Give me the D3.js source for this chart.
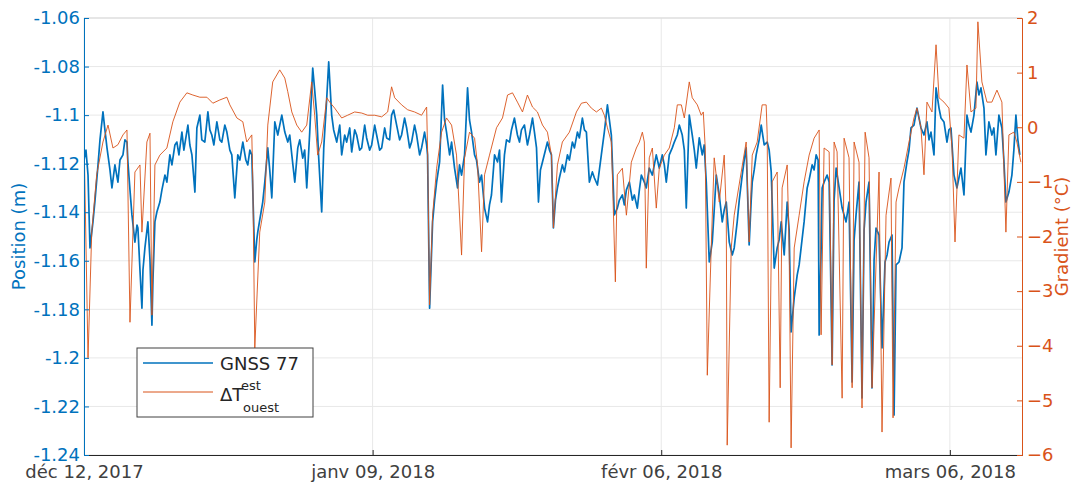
<!DOCTYPE html>
<html><head><meta charset="utf-8">
<script src="https://cdn.jsdelivr.net/npm/d3@7"></script>
<style>body{margin:0;background:#fff}svg{display:block}text{font-family:"DejaVu Sans",sans-serif}</style>
</head><body><svg id="c" width="1072" height="486"></svg>
<script>
const startDay = Date.UTC(2017, 11, 12);
const endDay = Date.UTC(2018, 2, 13);
const xTickDays = [0, 28, 56, 84];
const xTickLabels = ["déc 12, 2017", "janv 09, 2018", "févr 06, 2018", "mars 06, 2018"];
const posTicks = [-1.06, -1.08, -1.1, -1.12, -1.14, -1.16, -1.18, -1.2, -1.22, -1.24];
const posTickLabels = ["-1.06", "-1.08", "-1.1", "-1.12", "-1.14", "-1.16", "-1.18", "-1.2", "-1.22", "-1.24"];
const gradTicks = [2, 1, 0, -1, -2, -3, -4, -5, -6];
const seriesNames = ["GNSS 77", "ΔT"];

// [day offset from déc 12 2017, position (m)]
const gnss = [[0,-1.1185],[0.19,-1.1144],[0.39,-1.1247],[0.58,-1.1547],[0.87,-1.1440],[1.07,-1.1350],[1.36,-1.1205],[1.55,-1.1102],[1.84,-1.0987],[2.03,-1.1061],[2.23,-1.1135],[2.52,-1.1226],[2.71,-1.1300],[3.00,-1.1205],[3.29,-1.1276],[3.49,-1.1185],[3.78,-1.1164],[3.97,-1.1102],[4.17,-1.1111],[4.26,-1.1193],[4.46,-1.1308],[4.65,-1.1411],[4.94,-1.1523],[5.14,-1.1453],[5.23,-1.1465],[5.43,-1.1638],[5.62,-1.1795],[5.72,-1.1638],[5.91,-1.1547],[6.20,-1.1440],[6.40,-1.1597],[6.59,-1.1865],[6.69,-1.1679],[6.88,-1.1440],[7.07,-1.1399],[7.36,-1.1358],[7.56,-1.1308],[7.85,-1.1247],[8.04,-1.1276],[8.33,-1.1164],[8.53,-1.1205],[8.82,-1.1123],[9.01,-1.1111],[9.21,-1.1164],[9.50,-1.1070],[9.69,-1.1144],[10.08,-1.1041],[10.27,-1.1123],[10.47,-1.1164],[10.76,-1.1317],[10.95,-1.1053],[11.24,-1.1000],[11.43,-1.1102],[11.72,-1.1111],[12.02,-1.0987],[12.21,-1.1061],[12.40,-1.1082],[12.60,-1.1123],[12.89,-1.1028],[13.18,-1.1102],[13.37,-1.1111],[13.66,-1.1041],[13.86,-1.1070],[14.15,-1.1144],[14.34,-1.1164],[14.63,-1.1341],[14.92,-1.1164],[15.12,-1.1185],[15.41,-1.1111],[15.70,-1.1185],[15.89,-1.1205],[16.09,-1.1144],[16.28,-1.1164],[16.57,-1.1605],[16.76,-1.1514],[16.86,-1.1481],[17.05,-1.1432],[17.34,-1.1358],[17.54,-1.1276],[17.83,-1.1135],[18.02,-1.1226],[18.22,-1.1341],[18.51,-1.1028],[18.80,-1.1082],[18.99,-1.1041],[19.19,-1.1000],[19.48,-1.1070],[19.77,-1.1111],[19.96,-1.1082],[20.16,-1.1164],[20.45,-1.1276],[20.74,-1.1135],[20.93,-1.1102],[21.22,-1.1177],[21.41,-1.1144],[21.61,-1.1300],[21.90,-1.1070],[22.19,-1.0806],[22.38,-1.0897],[22.58,-1.1000],[22.77,-1.1177],[23.06,-1.1399],[23.26,-1.1135],[23.55,-1.0930],[23.74,-1.0781],[24.03,-1.1000],[24.22,-1.1061],[24.52,-1.1111],[24.81,-1.1041],[25.00,-1.1164],[25.29,-1.1082],[25.48,-1.1111],[25.78,-1.1053],[25.97,-1.1152],[26.26,-1.1061],[26.45,-1.1082],[26.74,-1.1144],[26.94,-1.1135],[27.23,-1.1041],[27.42,-1.1094],[27.71,-1.1144],[27.91,-1.1123],[28.20,-1.1041],[28.39,-1.1082],[28.68,-1.1144],[28.88,-1.1135],[29.17,-1.1053],[29.36,-1.1094],[29.65,-1.1102],[29.84,-1.1000],[30.04,-1.0979],[30.33,-1.1041],[30.62,-1.1102],[30.81,-1.1082],[31.10,-1.1012],[31.30,-1.1053],[31.59,-1.1135],[31.78,-1.1111],[32.07,-1.1041],[32.27,-1.1082],[32.56,-1.1164],[32.75,-1.1135],[33.04,-1.1070],[33.24,-1.1123],[33.33,-1.1164],[33.53,-1.1795],[33.82,-1.1440],[34.01,-1.1350],[34.21,-1.1276],[34.50,-1.1193],[34.79,-1.0876],[34.98,-1.1020],[35.17,-1.1070],[35.47,-1.1164],[35.66,-1.1111],[35.95,-1.1218],[36.24,-1.1300],[36.43,-1.1205],[36.63,-1.1247],[36.92,-1.1164],[37.21,-1.0888],[37.40,-1.1020],[37.60,-1.1070],[37.89,-1.1164],[38.08,-1.1185],[38.37,-1.1276],[38.57,-1.1247],[38.86,-1.1383],[39.15,-1.1440],[39.34,-1.1370],[39.53,-1.1329],[39.83,-1.1164],[40.12,-1.1193],[40.31,-1.1144],[40.50,-1.1358],[40.79,-1.1164],[40.99,-1.1102],[41.28,-1.1111],[41.47,-1.1061],[41.76,-1.1012],[42.05,-1.1082],[42.25,-1.1111],[42.44,-1.1061],[42.73,-1.1041],[43.02,-1.1123],[43.22,-1.1082],[43.51,-1.1012],[43.70,-1.1070],[43.90,-1.1135],[44.09,-1.1358],[44.28,-1.1226],[44.48,-1.1193],[44.77,-1.1144],[44.96,-1.1111],[45.16,-1.1144],[45.35,-1.1164],[45.54,-1.1465],[45.74,-1.1350],[45.93,-1.1300],[46.12,-1.1259],[46.41,-1.1205],[46.61,-1.1234],[46.90,-1.1164],[47.09,-1.1185],[47.38,-1.1111],[47.58,-1.1135],[47.87,-1.1070],[48.06,-1.1094],[48.35,-1.1012],[48.55,-1.1061],[48.74,-1.1070],[49.03,-1.1276],[49.32,-1.1234],[49.52,-1.1259],[49.81,-1.1288],[50.00,-1.1226],[50.19,-1.1164],[50.48,-1.1070],[50.78,-1.0958],[50.97,-1.1020],[51.16,-1.1082],[51.45,-1.1411],[51.74,-1.1383],[51.94,-1.1350],[52.23,-1.1329],[52.42,-1.1370],[52.62,-1.1308],[52.91,-1.1276],[53.20,-1.1350],[53.39,-1.1329],[53.68,-1.1383],[53.88,-1.1308],[54.07,-1.1247],[54.36,-1.1276],[54.55,-1.1300],[54.84,-1.1218],[55.14,-1.1247],[55.33,-1.1205],[55.52,-1.1164],[55.81,-1.1218],[56.10,-1.1164],[56.30,-1.1205],[56.49,-1.1276],[56.78,-1.1164],[57.07,-1.1135],[57.27,-1.1111],[57.56,-1.1082],[57.75,-1.1041],[58.04,-1.1082],[58.24,-1.1144],[58.43,-1.1383],[58.72,-1.1000],[59.01,-1.1082],[59.21,-1.1144],[59.40,-1.1218],[59.69,-1.1094],[59.98,-1.1164],[60.17,-1.1123],[60.37,-1.1276],[60.66,-1.1605],[60.95,-1.1523],[61.14,-1.1391],[61.34,-1.1247],[61.63,-1.1329],[61.92,-1.1440],[62.11,-1.1391],[62.31,-1.1358],[62.60,-1.1523],[62.89,-1.1576],[63.08,-1.1547],[63.37,-1.1440],[63.57,-1.1350],[63.86,-1.1247],[64.05,-1.1185],[64.24,-1.1135],[64.53,-1.1535],[64.73,-1.1350],[64.83,-1.1276],[65.02,-1.1226],[65.21,-1.1164],[65.50,-1.1102],[65.70,-1.1041],[65.99,-1.1123],[66.28,-1.1111],[66.47,-1.1144],[66.67,-1.1234],[66.96,-1.1630],[67.25,-1.1547],[67.44,-1.1514],[67.64,-1.1440],[67.93,-1.1576],[68.22,-1.1358],[68.41,-1.1473],[68.60,-1.1893],[68.90,-1.1753],[69.19,-1.1659],[69.38,-1.1617],[69.57,-1.1547],[69.86,-1.1440],[70.16,-1.1300],[70.35,-1.1267],[70.64,-1.1205],[70.83,-1.1226],[71.03,-1.1164],[71.22,-1.1185],[71.32,-1.1906],[71.51,-1.1556],[71.61,-1.1300],[71.80,-1.1276],[72.09,-1.1247],[72.29,-1.1276],[72.58,-1.2029],[72.77,-1.1350],[72.97,-1.1218],[73.26,-1.1300],[73.55,-1.1383],[73.74,-1.1411],[73.93,-1.1440],[74.22,-1.1358],[74.52,-1.2099],[74.71,-1.1514],[74.90,-1.1411],[75.19,-1.1276],[75.48,-1.2165],[75.68,-1.1473],[75.87,-1.1358],[76.16,-1.1276],[76.45,-1.2124],[76.65,-1.1597],[76.84,-1.1465],[77.13,-1.1494],[77.42,-1.1959],[77.71,-1.1605],[77.91,-1.1576],[78.10,-1.1523],[78.39,-1.1494],[78.59,-1.2235],[78.78,-1.1617],[79.07,-1.1605],[79.36,-1.1547],[79.55,-1.1276],[79.84,-1.1193],[80.04,-1.1144],[80.23,-1.1053],[80.52,-1.1041],[80.81,-1.0971],[81.01,-1.1012],[81.20,-1.1053],[81.49,-1.1082],[81.78,-1.1028],[81.98,-1.1102],[82.17,-1.1070],[82.46,-1.1164],[82.66,-1.0888],[82.95,-1.0971],[83.14,-1.1012],[83.43,-1.1028],[83.72,-1.1111],[83.91,-1.1061],[84.11,-1.1053],[84.40,-1.1247],[84.69,-1.1300],[84.88,-1.1259],[85.08,-1.1218],[85.37,-1.1329],[85.66,-1.1000],[85.85,-1.1041],[86.05,-1.1070],[86.34,-1.1000],[86.63,-1.0864],[86.82,-1.0917],[87.02,-1.0888],[87.31,-1.0971],[87.50,-1.1164],[87.79,-1.1028],[88.08,-1.1082],[88.27,-1.1053],[88.47,-1.1164],[88.76,-1.1000],[89.05,-1.1053],[89.24,-1.1185],[89.44,-1.1358],[89.73,-1.1317],[90.02,-1.1247],[90.21,-1.1144],[90.41,-1.1000],[90.60,-1.1102],[90.79,-1.1164]];

// [day offset, gradient (°C)]
const gradient = [[0,-0.14],[0.39,-4.22],[0.75,-1.92],[1.23,-0.87],[1.84,-0.27],[2.33,0.04],[2.81,-0.38],[3.29,-0.32],[3.78,-0.14],[4.17,-0.05],[4.46,-3.57],[4.94,-0.82],[5.43,-0.69],[5.62,-1.92],[6.10,-0.27],[6.40,-0.11],[6.59,-3.44],[6.88,-0.69],[7.36,-0.51],[8.04,-0.38],[8.62,0.10],[9.30,0.46],[9.98,0.63],[10.56,0.59],[11.24,0.55],[11.92,0.55],[12.50,0.44],[13.18,0.50],[13.86,0.55],[14.15,0.41],[14.83,0.17],[15.41,0.10],[15.79,-0.27],[16.28,-0.14],[16.38,-1.00],[16.57,-4.04],[17.05,-1.92],[17.54,-1.37],[17.83,0.04],[18.31,0.83],[18.99,1.05],[19.48,0.90],[19.77,0.65],[20.16,0.28],[20.64,0.04],[21.12,-0.09],[21.61,0.04],[22.09,0.83],[22.38,0.22],[22.67,-0.51],[23.06,-0.27],[23.55,0.54],[23.84,0.46],[24.32,0.35],[25.00,0.17],[25.58,0.22],[26.26,0.28],[26.94,0.26],[27.52,0.22],[28.20,0.22],[28.88,0.19],[29.46,0.28],[29.84,0.74],[30.14,0.54],[30.81,0.41],[31.40,0.32],[32.07,0.28],[32.75,0.22],[33.24,0.37],[33.33,-0.38],[33.53,-3.25],[33.82,-1.61],[34.21,-0.75],[34.69,-0.09],[35.17,0.17],[35.66,0.04],[36.14,-0.51],[36.63,-2.34],[36.92,-0.56],[37.40,-0.09],[37.89,-0.20],[38.18,-0.69],[38.57,-2.28],[38.86,-0.87],[39.34,-0.51],[40.02,-0.01],[40.60,0.17],[41.09,0.59],[41.57,0.63],[42.05,0.46],[42.54,0.28],[43.02,0.59],[43.51,0.37],[43.99,0.28],[44.48,0.04],[44.96,-0.09],[45.35,-0.51],[45.54,-1.84],[45.93,-0.69],[46.41,-0.27],[47.09,-0.09],[47.77,0.28],[48.26,0.44],[48.74,0.46],[49.22,0.35],[49.71,0.28],[50.19,0.35],[50.48,0.22],[50.78,-0.01],[51.16,-0.27],[51.26,-0.87],[51.55,-2.83],[51.74,-0.87],[52.23,-0.75],[52.62,-1.61],[53.10,-0.64],[53.59,-0.38],[53.88,-0.27],[54.17,-0.09],[54.36,-0.27],[54.55,-2.58],[54.84,-0.56],[55.14,-0.38],[55.52,-1.48],[55.81,-0.75],[56.30,-0.51],[56.78,-0.38],[57.27,-0.01],[57.56,0.41],[57.95,0.41],[58.24,0.17],[58.72,0.83],[59.01,0.54],[59.50,0.41],[59.88,0.22],[60.08,0.28],[60.27,-0.38],[60.47,-4.54],[60.85,-2.21],[61.14,-0.56],[61.63,-1.37],[62.11,-0.51],[62.31,-1.61],[62.40,-5.82],[62.79,-2.21],[63.08,-1.61],[63.76,-0.82],[64.24,-0.27],[64.53,-2.10],[64.83,-0.51],[65.31,-0.27],[65.79,0.41],[66.18,0.41],[66.28,-0.14],[66.47,-5.40],[66.76,-1.00],[67.25,-0.82],[67.54,-4.77],[67.73,-1.11],[68.22,-0.69],[68.41,-2.21],[68.60,-5.87],[68.90,-2.21],[69.38,-1.61],[69.86,-1.00],[70.35,-0.51],[70.83,-0.20],[71.32,-0.05],[71.51,-3.80],[71.80,-0.38],[72.29,-0.45],[72.58,-4.35],[72.77,-0.27],[73.06,-0.45],[73.55,-4.96],[73.74,-0.20],[74.22,-0.56],[74.52,-4.77],[74.71,-0.27],[75.19,-0.64],[75.48,-5.14],[75.78,-0.09],[76.16,-0.56],[76.45,-4.77],[77.13,-0.82],[77.42,-5.58],[77.81,-1.61],[78.29,-0.93],[78.49,-5.32],[78.78,-1.37],[79.07,-1.11],[79.55,-0.75],[80.04,-0.27],[80.52,0.17],[80.81,0.35],[81.20,-0.01],[81.49,-0.87],[81.78,0.46],[82.27,0.28],[82.66,1.51],[82.95,0.54],[83.43,0.46],[83.91,0.35],[84.21,-0.38],[84.50,-2.10],[84.88,-0.14],[85.37,-0.20],[85.66,1.14],[86.05,0.28],[86.53,0.35],[86.72,1.93],[87.11,0.83],[87.60,0.46],[88.08,0.46],[88.57,0.68],[89.05,0.46],[89.44,-1.92],[89.73,-0.14],[90.21,-0.09],[90.50,-0.27],[90.89,-0.64]];

const m = {left: 84, right: 1022, top: 18, bottom: 455};
const blue = "#0072BD", orange = "#D95319", dark = "#262626";
const svg = d3.select("#c");
const dayMs = 864e5;
const toDate = d => new Date(startDay + d * dayMs);

const x = d3.scaleUtc().domain([new Date(startDay), new Date(endDay)]).range([m.left, m.right]);
const yL = d3.scaleLinear().domain([-1.24, -1.06]).range([m.bottom, m.top]);
const yR = d3.scaleLinear().domain([-6, 2]).range([m.bottom, m.top]);

// grid
const grid = svg.append("g");
grid.selectAll("line.h").data(posTicks).join("line")
  .attr("x1", m.left).attr("x2", m.right)
  .attr("y1", d => yL(d)).attr("y2", d => yL(d))
  .attr("stroke", "#e8e8e8").attr("stroke-width", 1);
grid.selectAll("line.v").data(xTickDays).join("line")
  .attr("x1", d => x(toDate(d))).attr("x2", d => x(toDate(d)))
  .attr("y1", m.top).attr("y2", m.bottom)
  .attr("stroke", "#e8e8e8").attr("stroke-width", 1);

svg.append("clipPath").attr("id", "clip").append("rect")
  .attr("x", m.left).attr("y", m.top - 2).attr("width", m.right - m.left).attr("height", m.bottom - m.top + 2);

const plot = svg.append("g").attr("clip-path", "url(#clip)");
plot.append("path").datum(gnss)
  .attr("fill", "none").attr("stroke", blue).attr("stroke-width", 1.7).attr("stroke-linejoin", "round")
  .attr("d", d3.line().x(d => x(toDate(d[0]))).y(d => yL(d[1])));
plot.append("path").datum(gradient)
  .attr("fill", "none").attr("stroke", orange).attr("stroke-width", 1).attr("stroke-opacity", 0.9).attr("stroke-linejoin", "round")
  .attr("d", d3.line().x(d => x(toDate(d[0]))).y(d => yR(d[1])));

svg.append("line").attr("x1", m.left).attr("x2", m.right).attr("y1", m.top).attr("y2", m.top)
  .attr("stroke", "#d9d9d9");

const fs = "18px";
const ax = svg.append("g").attr("transform", `translate(0,${m.bottom})`)
  .call(d3.axisBottom(x).tickValues(xTickDays.map(toDate)).tickSize(-5).tickPadding(10)
    .tickFormat((d, i) => xTickLabels[i]));
ax.select(".domain").attr("stroke", dark);
ax.selectAll(".tick line").attr("stroke", dark);
ax.selectAll("text").attr("fill", "#404040").style("font-size", fs).style("font-family", "DejaVu Sans");

const al = svg.append("g").attr("transform", `translate(${m.left},0)`)
  .call(d3.axisLeft(yL).tickValues(posTicks).tickSize(-5).tickPadding(4)
    .tickFormat((d, i) => posTickLabels[i]));
al.select(".domain").attr("stroke", blue);
al.selectAll(".tick line").attr("stroke", blue);
al.selectAll("text").attr("fill", blue).style("font-size", fs).style("font-family", "DejaVu Sans");

const ar = svg.append("g").attr("transform", `translate(${m.right},0)`)
  .call(d3.axisRight(yR).tickValues(gradTicks).tickSize(-5).tickPadding(5).tickFormat(d3.format("d")));
ar.select(".domain").attr("stroke", orange);
ar.selectAll(".tick line").attr("stroke", orange);
ar.selectAll("text").attr("fill", orange).style("font-size", fs).style("font-family", "DejaVu Sans");

svg.append("text").attr("transform", `translate(18,${(m.top + m.bottom) / 2}) rotate(-90)`)
  .attr("text-anchor", "middle").attr("dominant-baseline", "central")
  .attr("fill", blue).style("font-size", fs).text("Position (m)");
svg.append("text").attr("transform", `translate(1061,${(m.top + m.bottom) / 2}) rotate(-90)`)
  .attr("text-anchor", "middle").attr("dominant-baseline", "central")
  .attr("fill", orange).style("font-size", fs).text("Gradient (°C)");

const lg = svg.append("g");
lg.append("rect").attr("x", 137).attr("y", 348).attr("width", 176).attr("height", 69)
  .attr("fill", "#fff").attr("stroke", "#404040").attr("stroke-width", 1);
lg.append("line").attr("x1", 143).attr("x2", 213).attr("y1", 363).attr("y2", 363).attr("stroke", blue).attr("stroke-width", 1.3);
lg.append("line").attr("x1", 143).attr("x2", 213).attr("y1", 392).attr("y2", 392).attr("stroke", orange).attr("stroke-width", 1);
lg.append("text").attr("x", 220).attr("y", 370).attr("fill", dark).style("font-size", fs).text(seriesNames[0]);
lg.append("text").attr("x", 220).attr("y", 401).attr("fill", dark).style("font-size", fs).text(seriesNames[1]);
lg.append("text").attr("x", 241).attr("y", 390).attr("fill", dark).style("font-size", "13px").text("est");
lg.append("text").attr("x", 243).attr("y", 412).attr("fill", dark).style("font-size", "13px").text("ouest");
</script></body></html>
